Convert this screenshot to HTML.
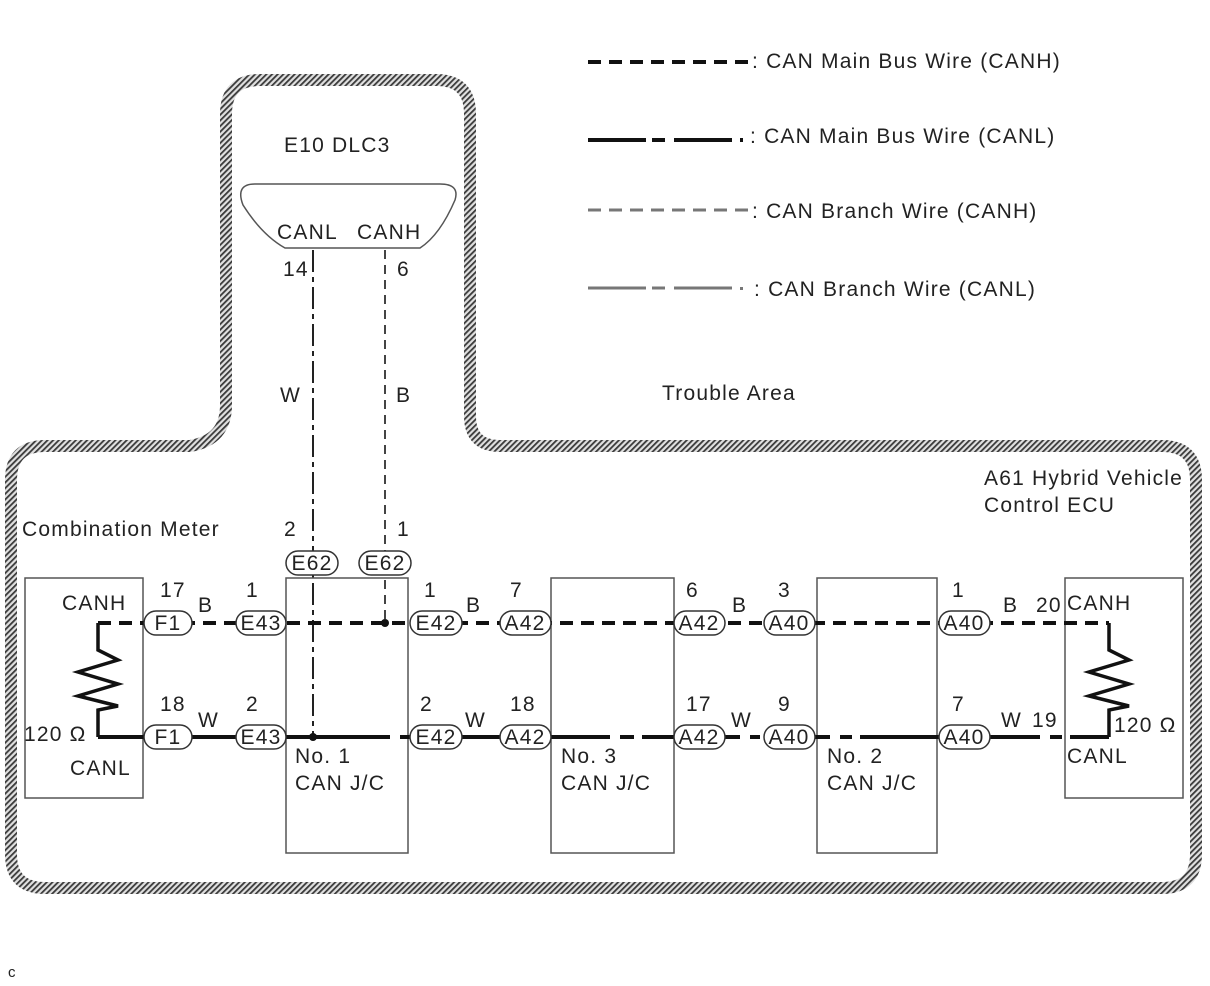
<!DOCTYPE html>
<html><head><meta charset="utf-8"><style>
html,body{margin:0;padding:0;background:#fff;}
svg{display:block;}
text{font-family:"Liberation Sans",Arial,sans-serif;font-size:21px;letter-spacing:1.2px;fill:#222;}
</style></head><body>
<svg width="1210" height="986" viewBox="0 0 1210 986" xmlns="http://www.w3.org/2000/svg">
<defs>
<pattern id="h" width="4" height="4" patternUnits="userSpaceOnUse" patternTransform="rotate(45)">
<rect width="4" height="4" fill="#e0e0e0"/>
<rect width="1.8" height="4" fill="#3a3a3a"/>
</pattern>
</defs>
<path d="M11,480 Q11,446 45,446 L190,446 Q226,440 226,405 L226,114 Q226,80 260,80 L436,80 Q470,80 470,114 L470,416 Q470,446 500,446 L1162,446 Q1196,446 1196,480 L1196,854 Q1196,888 1162,888 L45,888 Q11,888 11,854 Z" fill="none" stroke="url(#h)" stroke-width="12"/>

<line x1="588" y1="62" x2="748" y2="62" stroke="#111" stroke-width="4" stroke-dasharray="13,8"/>
<text x="752" y="68">: CAN Main Bus Wire (CANH)</text>
<path d="M588,140 h58 M652,140 h13 M674,140 h58" stroke="#111" stroke-width="4"/>
<rect x="740" y="138" width="3" height="4" fill="#111"/>
<text x="750" y="143">: CAN Main Bus Wire (CANL)</text>
<line x1="588" y1="210" x2="748" y2="210" stroke="#777" stroke-width="3" stroke-dasharray="13,8"/>
<text x="752" y="218">: CAN Branch Wire (CANH)</text>
<path d="M588,288 h58 M652,288 h13 M674,288 h58" stroke="#777" stroke-width="3"/>
<rect x="740" y="287" width="3" height="3" fill="#777"/>
<text x="754" y="296">: CAN Branch Wire (CANL)</text>

<text x="662" y="400">Trouble Area</text>
<text x="284" y="152">E10 DLC3</text>

<path d="M255,184 L440,184 Q460,184 455,200 Q440,235 420,248 L285,248 Q262,235 243,205 Q235,184 255,184 Z" fill="none" stroke="#555" stroke-width="1.5"/>
<text x="277" y="239">CANL</text>
<text x="357" y="239">CANH</text>
<text x="283" y="276">14</text>
<text x="397" y="276">6</text>
<line x1="313" y1="250" x2="313" y2="737" stroke="#222" stroke-width="2" stroke-dasharray="22,5,5,5"/>
<line x1="385" y1="250" x2="385" y2="623" stroke="#444" stroke-width="2" stroke-dasharray="9,6"/>
<text x="280" y="402">W</text>
<text x="396" y="402">B</text>

<text x="22" y="536">Combination Meter</text>
<text x="984" y="485">A61 Hybrid Vehicle</text>
<text x="984" y="512">Control ECU</text>
<text x="284" y="536">2</text>
<text x="397" y="536">1</text>

<g fill="none" stroke="#555" stroke-width="1.5">
<rect x="25" y="578" width="118" height="220"/>
<rect x="286" y="578" width="122" height="275"/>
<rect x="551" y="578" width="123" height="275"/>
<rect x="817" y="578" width="120" height="275"/>
<rect x="1065" y="578" width="118" height="220"/>
</g>

<line x1="98" y1="623" x2="1109" y2="623" stroke="#111" stroke-width="4" stroke-dasharray="13,8"/>
<path d="M143,737 H390 M400,737 H412 M420,737 H610 M620,737 H634 M642,737 H740 M750,737 H760 M770,737 H830 M840,737 H852 M860,737 H1040 M1050,737 H1062 M1070,737 H1109" stroke="#111" stroke-width="4"/>
<path d="M98,737 H143" stroke="#111" stroke-width="4"/>
<path d="M98,623 V650 L118,660 L78,672 L118,684 L78,696 L118,706 L98,710 V737" fill="none" stroke="#111" stroke-width="3.5"/>
<path d="M1109,623 V650 L1129,660 L1089,672 L1129,684 L1089,696 L1129,706 L1109,710 V737" fill="none" stroke="#111" stroke-width="3.5"/>
<circle cx="385" cy="623" r="4" fill="#111"/>
<circle cx="313" cy="737" r="4" fill="#111"/>

<g>
<g stroke="#333" stroke-width="1.5" fill="#fff">
<rect x="144" y="611" width="48" height="24" rx="12"/>
<rect x="236" y="611" width="50" height="24" rx="12"/>
<rect x="410" y="611" width="52" height="24" rx="12"/>
<rect x="500" y="611" width="51" height="24" rx="12"/>
<rect x="674" y="611" width="51" height="24" rx="12"/>
<rect x="764" y="611" width="51" height="24" rx="12"/>
<rect x="939" y="611" width="51" height="24" rx="12"/>
<rect x="144" y="725" width="48" height="24" rx="12"/>
<rect x="236" y="725" width="50" height="24" rx="12"/>
<rect x="410" y="725" width="52" height="24" rx="12"/>
<rect x="500" y="725" width="51" height="24" rx="12"/>
<rect x="674" y="725" width="51" height="24" rx="12"/>
<rect x="764" y="725" width="51" height="24" rx="12"/>
<rect x="939" y="725" width="51" height="24" rx="12"/>
<rect x="286" y="551" width="52" height="24" rx="12"/>
<rect x="359" y="551" width="52" height="24" rx="12"/>
</g>
<g text-anchor="middle" style="font-size:19.5px;letter-spacing:0">
<text x="168" y="630">F1</text><text x="261" y="630">E43</text><text x="436" y="630">E42</text>
<text x="525" y="630">A42</text><text x="699" y="630">A42</text><text x="789" y="630">A40</text><text x="964" y="630">A40</text>
<text x="168" y="744">F1</text><text x="261" y="744">E43</text><text x="436" y="744">E42</text>
<text x="525" y="744">A42</text><text x="699" y="744">A42</text><text x="789" y="744">A40</text><text x="964" y="744">A40</text>
<text x="312" y="570">E62</text><text x="385" y="570">E62</text>
</g>
</g>

<text x="160" y="597">17</text><text x="198" y="612">B</text><text x="246" y="597">1</text>
<text x="424" y="597">1</text><text x="466" y="612">B</text><text x="510" y="597">7</text>
<text x="686" y="597">6</text><text x="732" y="612">B</text><text x="778" y="597">3</text>
<text x="952" y="597">1</text><text x="1003" y="612">B</text><text x="1036" y="612">20</text>
<text x="160" y="711">18</text><text x="198" y="727">W</text><text x="246" y="711">2</text>
<text x="420" y="711">2</text><text x="465" y="727">W</text><text x="510" y="711">18</text>
<text x="686" y="711">17</text><text x="731" y="727">W</text><text x="778" y="711">9</text>
<text x="952" y="711">7</text><text x="1001" y="727">W</text><text x="1032" y="727">19</text>

<text x="62" y="610">CANH</text>
<text x="24" y="741">120 Ω</text>
<text x="70" y="775">CANL</text>
<text x="1067" y="610">CANH</text>
<text x="1114" y="732">120 Ω</text>
<text x="1067" y="763">CANL</text>

<text x="295" y="763">No. 1</text><text x="295" y="790">CAN J/C</text>
<text x="561" y="763">No. 3</text><text x="561" y="790">CAN J/C</text>
<text x="827" y="763">No. 2</text><text x="827" y="790">CAN J/C</text>

<text x="8" y="977" style="font-size:15px;letter-spacing:0">c</text>
</svg>
</body></html>
